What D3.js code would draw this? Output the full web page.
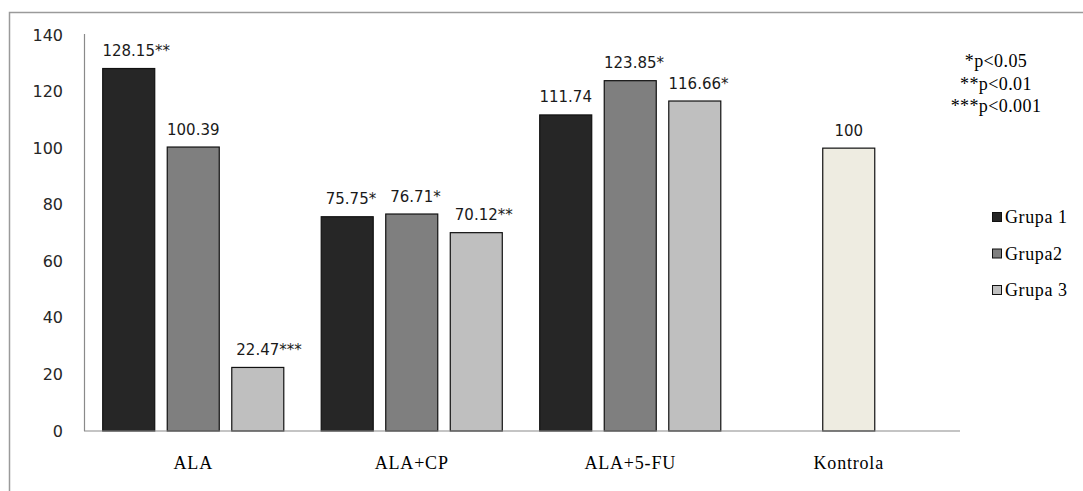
<!DOCTYPE html>
<html><head><meta charset="utf-8">
<script src="https://cdn.jsdelivr.net/npm/d3@7"></script>
<style>html,body{margin:0;padding:0;background:#fff;}</style>
</head><body>
<svg id="chart" width="1083" height="491"></svg>
<script>
const categories = ["ALA", "ALA+CP", "ALA+5-FU", "Kontrola"];
const seriesNames = ["Grupa 1", "Grupa2", "Grupa 3"];
const grupa1 = [128.15, 75.75, 111.74, null];
const grupa2 = [100.39, 76.71, 123.85, 100];
const grupa3 = [22.47, 70.12, 116.66, null];
const labels1 = ["128.15**", "75.75*", "111.74", null];
const labels2 = ["100.39", "76.71*", "123.85*", "100"];
const labels3 = ["22.47***", "70.12**", "116.66*", null];
const yTicks = [0, 20, 40, 60, 80, 100, 120, 140];
const notes = ["*p<0.05", "**p<0.01", "***p<0.001"];

const colors = ["#262626", "#7f7f7f", "#bfbfbf"];
const kontrolaColor = "#eeece1";

const svg = d3.select("#chart");
// outer frame
svg.append("rect").attr("x", 9.5).attr("y", 12.5).attr("width", 1100).attr("height", 500)
  .attr("fill", "none").attr("stroke", "#9a9a9a").attr("stroke-width", 1.5);

const y = d3.scaleLinear().domain([0, 140]).range([431, 35]);
const x = d3.scaleBand().domain(categories).range([84, 958]).padding(0);
const xs = d3.scaleBand().domain(seriesNames).range([0, x.bandwidth()])
  .paddingInner(0.194).paddingOuter(0.29);

// y axis tick labels
const yAxis = d3.axisLeft(y).tickValues(yTicks).tickSize(0).tickPadding(21);
const ya = svg.append("g").attr("transform", "translate(84,0)").call(yAxis);
ya.select(".domain").remove();
ya.selectAll("text").attr("font-family", "DejaVu Sans").attr("font-size", 16).attr("fill", "#262626");
svg.append("line").attr("x1", 84.5).attr("x2", 84.5).attr("y1", 34).attr("y2", 431)
  .attr("stroke", "#8a8a8a").attr("stroke-width", 1.2);

// x axis
const xAxis = d3.axisBottom(x).tickSize(0).tickPadding(25);
const xa = svg.append("g").attr("transform", "translate(0,431)").call(xAxis);
xa.select(".domain").remove();
xa.selectAll("text").attr("font-family", "Liberation Serif").attr("font-size", 18)
  .attr("letter-spacing", "0.8px").attr("fill", "#000");

const series = [grupa1, grupa2, grupa3];
const labels = [labels1, labels2, labels3];
const data = [];
series.forEach((vals, si) => vals.forEach((v, ci) => {
  if (v != null) data.push({cat: categories[ci], s: seriesNames[si], si, v, label: labels[si][ci]});
}));

svg.append("g").selectAll("rect").data(data).join("rect")
  .attr("x", d => x(d.cat) + xs(d.s))
  .attr("y", d => y(d.v))
  .attr("width", xs.bandwidth())
  .attr("height", d => y(0) - y(d.v))
  .attr("fill", d => d.cat === "Kontrola" ? kontrolaColor : colors[d.si])
  .attr("stroke", "#111").attr("stroke-width", 1.2);

svg.append("line").attr("x1", 84).attr("x2", 960).attr("y1", 431).attr("y2", 431)
  .attr("stroke", "#8a8a8a").attr("stroke-width", 1.2);

// value labels: numeric part centred on bar, stars appended
const lg = svg.append("g");
data.forEach(d => {
  const m = d.label.match(/^([0-9.]+)(\**)$/);
  const t = lg.append("text").attr("font-family", "DejaVu Sans").attr("font-size", 15)
    .attr("fill", "#1a1a1a").attr("y", y(d.v) - 12.5);
  const num = t.append("tspan").text(m[1]);
  const w = num.node().getComputedTextLength();
  if (m[2]) t.append("tspan").text(m[2]);
  const cx = x(d.cat) + xs(d.s) + xs.bandwidth() / 2;
  t.attr("x", cx - w / 2);
});

// legend
const legend = svg.append("g");
seriesNames.forEach((n, i) => {
  const ly = 217 + i * 36.5;
  legend.append("rect").attr("x", 992.5).attr("y", ly - 4.5).attr("width", 9).attr("height", 9)
    .attr("fill", colors[i]).attr("stroke", "#111").attr("stroke-width", 1);
  legend.append("text").attr("x", 1005).attr("y", ly + 6).text(n)
    .attr("font-family", "Liberation Serif").attr("font-size", 18).attr("letter-spacing", "0.6px");
});

// significance notes
notes.forEach((n, i) => {
  svg.append("text").attr("x", 996).attr("y", 67 + i * 22.5).attr("text-anchor", "middle")
    .text(n).attr("font-family", "Liberation Serif").attr("font-size", 18).attr("letter-spacing", "0.4px");
});
</script>
</body></html>
